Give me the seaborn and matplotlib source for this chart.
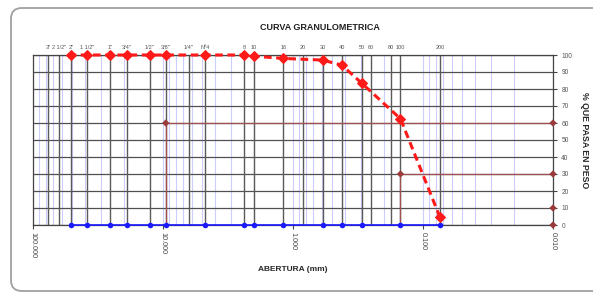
import matplotlib
matplotlib.use("Agg")
import matplotlib.pyplot as plt
import seaborn as sns
import pandas as pd
import numpy as np
from matplotlib.patches import FancyBboxPatch
from matplotlib.ticker import LogLocator, FixedLocator, NullFormatter

# ---- data ----
sieve_labels = ['3"', '2 1/2"', '2"', '1 1/2"', '1"', '3/4"', '1/2"', '3/8"', '1/4"', 'Nº4',
                '8', '10', '16', '20', '30', '40', '50', '60', '80', '100', '200']
sieve_mm = [76.2, 63.5, 50.8, 38.1, 25.4, 19.05, 12.7, 9.525, 6.35, 4.76,
            2.38, 2.0, 1.19, 0.84, 0.59, 0.42, 0.297, 0.25, 0.177, 0.149, 0.074]

sample_mm = [50.8, 38.1, 25.4, 19.05, 12.7, 9.525, 4.76, 2.38, 2.0, 1.19, 0.59, 0.42, 0.297, 0.149, 0.074]
passing = [100, 100, 100, 100, 100, 100, 100, 100, 99.3, 98, 97, 94, 83.5, 62.5, 4.5]

d_mm = [9.525, 0.149]       # D60, D30
d_pct = [60, 30]
right_marks = [60, 30, 10, 0]

x_ticks = [100, 10, 1, 0.1, 0.01]
x_ticklabels = ['100.000', '10.000', '1.000', '0.100', '0.010']
y_ticks = list(range(0, 101, 10))

# ---- figure ----
sns.set_theme(style="white")
plt.rcParams['font.family'] = ['Liberation Sans', 'DejaVu Sans']

fig = plt.figure(figsize=(5.93, 2.94), dpi=100)
W, H = 593, 294
L, R, T, B = 33, 553, 55, 225
ax = fig.add_axes([L / W, 1 - B / H, (R - L) / W, (B - T) / H])

# rounded border (right side runs off the canvas)
fig.patches.append(FancyBboxPatch((11 / W, 3 / H), 1.2, 1 - 11 / H,
                                  boxstyle="round,pad=0,rounding_size=0.018",
                                  transform=fig.transFigure, fill=False,
                                  edgecolor='#a0a0a0', linewidth=1.3, clip_on=False,
                                  mutation_aspect=W / H))

ax.set_xscale('log')
ax.set_xlim(100, 0.01)
ax.set_ylim(0, 100)

# minor light blue grid
ax.xaxis.set_major_locator(FixedLocator(x_ticks))
ax.xaxis.set_minor_locator(LogLocator(base=10, subs=np.arange(2, 10)))
ax.xaxis.set_minor_formatter(NullFormatter())
ax.grid(True, which='minor', axis='x', color='#cdcdff', linewidth=0.8)
ax.grid(True, which='major', axis='x', color='#cdcdff', linewidth=0.8)
ax.set_yticks(y_ticks)
ax.grid(True, which='major', axis='y', color='#505050', linewidth=0.9)

# sieve lines
for s in sieve_mm:
    ax.axvline(s, color='#5a5a5a', linewidth=1.0, zorder=1)

# D lines
for dm, dp in zip(d_mm, d_pct):
    ax.plot([dm, 0.01], [dp, dp], color='#a05050', linewidth=0.9, zorder=2)
    ax.plot([dm, dm], [dp, 0], color='#a05050', linewidth=0.9, zorder=2)
sns.scatterplot(x=d_mm, y=d_pct, ax=ax, color='#9a3a3a', marker='D', s=14,
                edgecolor='none', zorder=3, clip_on=False)
sns.scatterplot(x=[0.01] * len(right_marks), y=right_marks, ax=ax, color='#9a3a3a',
                marker='D', s=14, edgecolor='none', zorder=3, clip_on=False)

# baseline blue
df = pd.DataFrame({'mm': sample_mm, 'pct': passing, 'zero': [0] * len(sample_mm)})
sns.lineplot(data=df, x='mm', y='zero', ax=ax, color='#1a1aff', linewidth=1.2,
             marker='o', markersize=4, markeredgecolor='none', zorder=4, clip_on=False)

# curve
sns.lineplot(data=df, x='mm', y='pct', ax=ax, color='#ff1a1a', linewidth=2.2,
             linestyle=(0, (2.5, 1.5)), marker='D', markersize=5, markeredgecolor='#ff1a1a',
             zorder=5, clip_on=False)

# axes styling
for sp in ax.spines.values():
    sp.set_color('#444444')
    sp.set_linewidth(0.9)
ax.yaxis.tick_right()
ax.yaxis.set_label_position('right')
ax.tick_params(axis='y', which='major', right=True, length=3, width=0.8, color='#444444',
               labelsize=4.8, labelcolor='#555555', pad=3)
ax.tick_params(axis='x', which='major', bottom=True, length=3, width=0.8, color='#444444',
               labelsize=5.2, labelcolor='#444444', pad=2)
ax.tick_params(axis='x', which='minor', bottom=False)
ax.set_xticklabels(x_ticklabels, rotation=270)

ax.set_xlabel('ABERTURA (mm)', fontsize=6, fontweight='bold', labelpad=6)
ax.set_ylabel('% QUE PASA EN PESO', fontsize=6.3, fontweight='bold', rotation=270, labelpad=12)

# top sieve labels
for s, lab in zip(sieve_mm, sieve_labels):
    ax.text(s, 1.03, lab, transform=ax.get_xaxis_transform(), ha='center', va='bottom',
            fontsize=4.0, color='#555555')

fig.text(320 / W, 1 - 27 / H, 'CURVA GRANULOMETRICA', ha='center', va='center',
         fontsize=6.5, fontweight='bold', color='#222222')

fig.savefig('out.png', dpi=100)
